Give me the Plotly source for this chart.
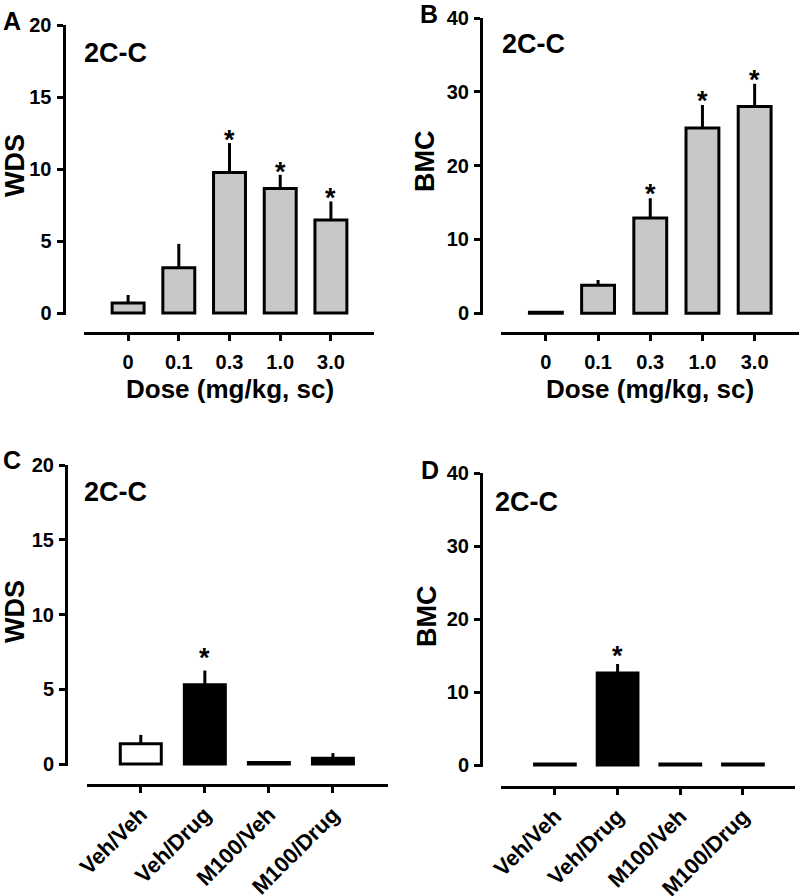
import plotly.graph_objects as go

W, H = 800, 896
FONT = "Liberation Sans, Arial, Helvetica, sans-serif"

# ---------------- data ----------------
dose_labels = ["0", "0.1", "0.3", "1.0", "3.0"]
wds_dose = [0.7, 3.15, 9.75, 8.65, 6.45]
wds_dose_sem = [0.55, 1.65, 2.05, 0.95, 1.3]
wds_dose_sig = [False, False, True, True, True]

bmc_dose = [0.15, 3.8, 12.9, 25.1, 28.0]
bmc_dose_sem = [0.0, 0.7, 2.7, 3.1, 3.1]
bmc_dose_sig = [False, False, True, True, True]

groups = ["Veh/Veh", "Veh/Drug", "M100/Veh", "M100/Drug"]
wds_ant = [1.35, 5.3, 0.1, 0.38]
wds_ant_sem = [0.6, 0.95, 0.0, 0.35]
wds_ant_sig = [False, True, False, False]

bmc_ant = [0.15, 12.6, 0.15, 0.15]
bmc_ant_sem = [0.0, 1.25, 0.0, 0.0]
bmc_ant_sig = [False, True, False, False]

panel_letters = ["A", "B", "C", "D"]
drug_name = "2C-C"
y_titles = ["WDS", "BMC", "WDS", "BMC"]
x_title = "Dose (mg/kg, sc)"

# ---------------- layout geometry (pixels) ----------------
GRAY = "#c8c8c8"
panels = [
    dict(cats=dose_labels, vals=wds_dose, sem=wds_dose_sem, sig=wds_dose_sig,
         colors=[GRAY] * 5, ymax=20, dtick=5,
         yax_x=63.5, y0=313, ytop=25, xline_y=333, xl=84, xr=374,
         xrange=[-0.87, 4.85], bw=0.63, angle=0, star_shift=9,
         letter=(12, 20.5), label=(82, 53), ytitle=(15, 166), xtitle=(230, 389)),
    dict(cats=dose_labels, vals=bmc_dose, sem=bmc_dose_sem, sig=bmc_dose_sig,
         colors=[GRAY] * 5, ymax=40, dtick=10,
         yax_x=481, y0=313.3, ytop=18, xline_y=333, xl=501, xr=799,
         xrange=[-0.86, 4.85], bw=0.63, angle=0, star_shift=10,
         letter=(429, 14), label=(500, 44), ytitle=(425, 161), xtitle=(650, 389)),
    dict(cats=groups, vals=wds_ant, sem=wds_ant_sem, sig=wds_ant_sig,
         colors=["white", "black", "white", "black"], ymax=20, dtick=5,
         yax_x=66, y0=764, ytop=465, xline_y=785, xl=87, xr=388,
         xrange=[-0.84, 3.86], bw=0.64, angle=-45, star_shift=19,
         letter=(12, 460), label=(82, 492), ytitle=(15, 612), xtitle=None),
    dict(cats=groups, vals=bmc_ant, sem=bmc_ant_sem, sig=bmc_ant_sig,
         colors=["white", "black", "white", "white"], ymax=40, dtick=10,
         yax_x=481, y0=765, ytop=473.3, xline_y=786.7, xl=501, xr=795,
         xrange=[-0.86, 3.83], bw=0.65, angle=-45, star_shift=14,
         letter=(430, 470), label=(493, 502), ytitle=(427, 616), xtitle=None),
]


def fx(px):
    return px / W


def fy(py):
    return 1 - py / H


fig = go.Figure()
annotations = []
layout_axes = {}

for i, p in enumerate(panels):
    k = "" if i == 0 else str(i + 1)
    xa, ya = "x" + k, "y" + k
    ppu = (p["y0"] - p["ytop"]) / p["ymax"]
    pad = 2.0
    ymin = -pad / ppu
    rotated = p["angle"] != 0

    fig.add_trace(go.Bar(
        x=p["cats"], y=p["vals"], xaxis=xa, yaxis=ya, width=p["bw"],
        marker=dict(color=p["colors"], line=dict(color="black", width=3)),
        error_y=dict(type="data", array=p["sem"], arrayminus=[0] * len(p["sem"]),
                     symmetric=False, thickness=3, width=0, color="black"),
        showlegend=False, hoverinfo="skip",
    ))

    tickfont = dict(family=FONT, size=20, color="black", weight="bold")
    layout_axes["xaxis" + k] = dict(
        domain=[fx(p["xl"]), fx(p["xr"])], anchor="free", position=fy(p["xline_y"]),
        type="category", categoryorder="array", categoryarray=p["cats"],
        range=p["xrange"], showline=True, linewidth=3, linecolor="black",
        ticks="outside", ticklen=6, tickwidth=3, tickcolor="black",
        showgrid=False, zeroline=False, tickangle=p["angle"],
        tickfont=dict(family=FONT, size=22 if rotated else 20,
                      color="black", weight="bold"),
        ticklabelstandoff=0 if rotated else 4, automargin=False,
    )
    layout_axes["yaxis" + k] = dict(
        domain=[fy(p["y0"] + pad), fy(p["ytop"])], anchor="free",
        position=fx(p["yax_x"]), range=[ymin, p["ymax"]],
        tickmode="linear", tick0=0, dtick=p["dtick"],
        showline=True, linewidth=3, linecolor="black",
        ticks="outside", ticklen=6, tickwidth=3, tickcolor="black",
        showgrid=False, zeroline=False, tickfont=tickfont, ticklabelstandoff=1,
        automargin=False,
    )

    # significance stars (x given as category index)
    for j, (v, s, g) in enumerate(zip(p["vals"], p["sem"], p["sig"])):
        if g:
            annotations.append(dict(
                x=j, y=v + s, xref=xa, yref=ya, text="*", showarrow=False,
                yanchor="middle", yshift=p["star_shift"] - 6,
                font=dict(family=FONT, size=27, color="black", weight="bold")))

    # panel letter
    annotations.append(dict(
        x=fx(p["letter"][0]), y=fy(p["letter"][1]), xref="paper", yref="paper",
        text=panel_letters[i], showarrow=False, xanchor="center", yanchor="middle",
        font=dict(family=FONT, size=25, color="black", weight="bold")))
    # drug label
    annotations.append(dict(
        x=fx(p["label"][0]), y=fy(p["label"][1]), xref="paper", yref="paper",
        text=drug_name, showarrow=False, xanchor="left", yanchor="middle",
        font=dict(family=FONT, size=27, color="black", weight="bold")))
    # y title
    annotations.append(dict(
        x=fx(p["ytitle"][0]), y=fy(p["ytitle"][1]), xref="paper", yref="paper",
        text=y_titles[i], showarrow=False, textangle=-90,
        xanchor="center", yanchor="middle",
        font=dict(family=FONT, size=27, color="black", weight="bold")))
    # x title
    if p["xtitle"] is not None:
        annotations.append(dict(
            x=fx(p["xtitle"][0]), y=fy(p["xtitle"][1]), xref="paper", yref="paper",
            text=x_title, showarrow=False, xanchor="center", yanchor="middle",
            font=dict(family=FONT, size=26, color="black", weight="bold")))

fig.update_layout(
    width=W, height=H,
    margin=dict(l=0, r=0, t=0, b=0, autoexpand=False),
    paper_bgcolor="white", plot_bgcolor="white",
    annotations=annotations, **layout_axes,
)

fig.write_html(
    "out.html",
    config={"displayModeBar": False},
    post_script="document.body.style.margin='0px';document.body.style.overflow='hidden';",
)
